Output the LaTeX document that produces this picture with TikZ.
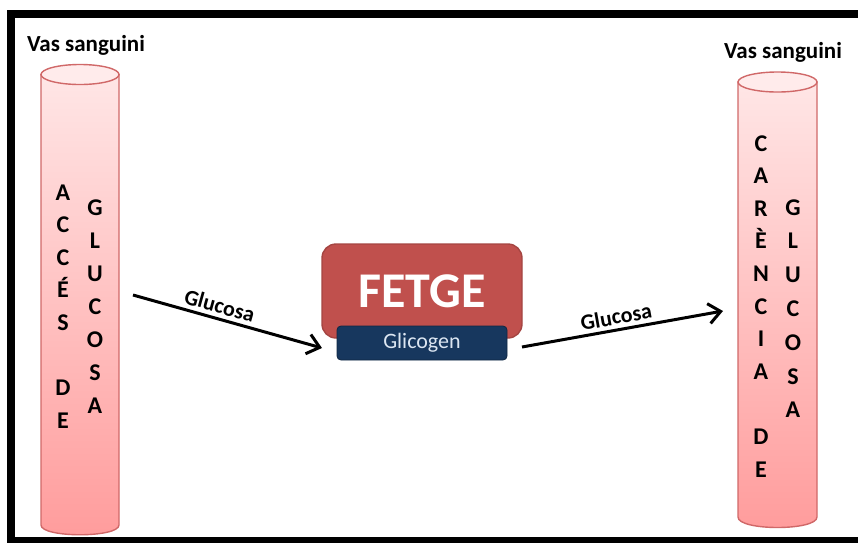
\documentclass[tikz,border=0pt]{standalone}
\usepackage{fontspec}
\setmainfont{Carlito}
\usepackage{xcolor}
\usetikzlibrary{arrows.meta,positioning}
\definecolor{vaslin}{HTML}{D06868}
\definecolor{vastop}{HTML}{FFE6E6}
\definecolor{vasbot}{HTML}{FF9C9C}
\definecolor{vascapc}{HTML}{FFEBEB}
\definecolor{fetgefill}{HTML}{C0504D}
\definecolor{fetgelin}{HTML}{A54542}
\definecolor{glicfill}{HTML}{17375E}
\definecolor{glictext}{HTML}{DCE6F2}
\tikzset{
  vastitle/.style={font=\bfseries\fontsize{11.5}{13}\selectfont, inner sep=0pt},
  lletra/.style={font=\bfseries\fontsize{12}{14}\selectfont, inner sep=0pt, anchor=base},
  vasbody/.style={draw=vaslin, line width=0.7pt, top color=vastop, bottom color=vasbot},
  vascap/.style={draw=vaslin, line width=0.7pt, fill=vascapc},
  organ/.style={rectangle, rounded corners=7pt, draw=fetgelin, line width=0.7pt,
    fill=fetgefill, text=white, font=\bfseries\fontsize{25}{29}\selectfont,
    minimum width=100pt, minimum height=47pt, inner sep=0pt},
  reserva/.style={rectangle, rounded corners=2pt, draw=glicfill!70!black, fill=glicfill,
    text=glictext, font=\fontsize{11}{13}\selectfont,
    minimum width=85pt, minimum height=17pt, inner sep=0pt},
  flux/.style={-{Straight Barb[length=6pt, width=10pt, line width=1.5pt]}, line width=1.5pt},
  flab/.style={font=\bfseries\fontsize{11}{13}\selectfont, sloped, above, inner sep=2pt},
}
\begin{document}
\begin{tikzpicture}[x=0.5pt, y=-0.5pt]
  \useasboundingbox (0,0) rectangle (858,542);
  % marc
  \draw[line width=4pt] (11,13.5) rectangle (880,541);
  % vas sanguini esquerre
  \path[vasbody] (41,74.5) -- (41,525) .. controls (41,538) and (119,538) .. (119,525) -- (119,74.5) -- cycle;
  \path[vascap] (80,74.5) ellipse[x radius=19.5pt, y radius=5pt];
  \node[vastitle] (vas1) at (86,45) {Vas sanguini};
  \foreach \l [count=\i] in {A,C,C,É,S,,D,E}
    \node[lletra] (acc\i) at (63,{200+32.6*(\i-1)}) {\l};
  \foreach \l [count=\i] in {G,L,U,C,O,S,A}
    \node[lletra] (glu\i) at (95,{215+33*(\i-1)}) {\l};
  % vas sanguini dret
  \path[vasbody] (738,82) -- (738,517) .. controls (738,531) and (817,531) .. (817,517) -- (817,82) -- cycle;
  \path[vascap] (777.5,82) ellipse[x radius=19.75pt, y radius=5pt];
  \node[vastitle] (vas2) at (783,52) {Vas sanguini};
  \foreach \l [count=\i] in {C,A,R,È,N,C,I,A,,D,E}
    \node[lletra] (car\i) at (761,{151+32.6*(\i-1)}) {\l};
  \foreach \l [count=\i] in {G,L,U,C,O,S,A}
    \node[lletra] (glc\i) at (793,{215+33.8*(\i-1)}) {\l};
  % fetge
  \node[organ] (fetge) at (422,291) {FETGE};
  \node[reserva] (glic) at (422,343) {Glicogen};
  % fletxes
  \coordinate (in0) at (133,295);
  \coordinate (in1) at (322,348);
  \coordinate (out0) at (522,347);
  \coordinate (out1) at (723,311);
  \draw[flux] (in0) -- node[flab, pos=0.44]{Glucosa} (in1);
  \draw[flux] (out0) -- node[flab, pos=0.48]{Glucosa} (out1);
\end{tikzpicture}
\end{document}
